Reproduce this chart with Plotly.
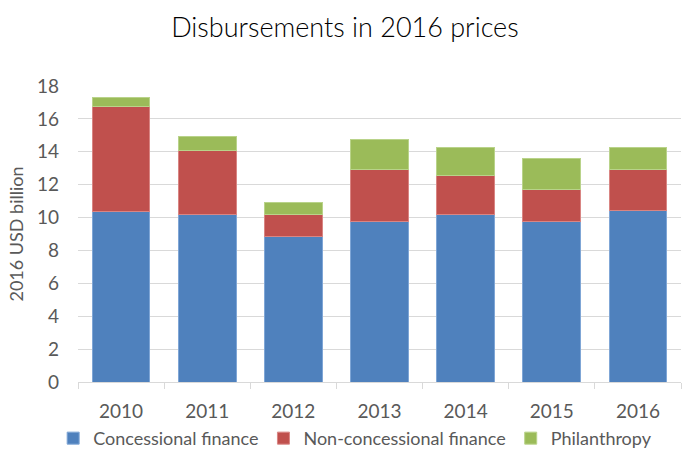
import plotly.graph_objects as go

# Data (2016 USD billion)
years = ["2010", "2011", "2012", "2013", "2014", "2015", "2016"]
concessional = [10.35, 10.17, 8.83, 9.78, 10.17, 9.78, 10.45]
non_concessional = [6.39, 3.91, 1.34, 3.17, 2.37, 1.91, 2.50]
philanthropy = [0.57, 0.86, 0.75, 1.78, 1.73, 1.91, 1.32]

FONT = "Lato, Calibri, sans-serif"
TEXT_GREY = "#595959"

fig = go.Figure()

# Stacked bars, bottom to top
fig.add_trace(go.Bar(
    x=years, y=concessional, name="Concessional finance",
    marker=dict(color="#4F81BD", line=dict(color="#7FA6D6", width=1)),
))
fig.add_trace(go.Bar(
    x=years, y=non_concessional, name="Non-concessional finance",
    marker=dict(color="#C0504D", line=dict(color="#D98583", width=1)),
))
fig.add_trace(go.Bar(
    x=years, y=philanthropy, name="Philanthropy",
    marker=dict(color="#9BBB59", line=dict(color="#B9D38A", width=1)),
))

fig.update_layout(
    barmode="stack",
    bargap=0.33,
    width=683,
    height=452,
    margin=dict(l=78, r=2, t=86, b=70),
    paper_bgcolor="white",
    plot_bgcolor="white",
    font=dict(family=FONT, size=18, color=TEXT_GREY),
    title=dict(
        text="Disbursements in 2016 prices",
        x=0.505, xanchor="center",
        y=0.938, yanchor="middle",
        font=dict(family=FONT, size=27, color="#000000", weight=300),
    ),
    legend=dict(
        orientation="h",
        xref="container", yref="container",
        x=0.52, xanchor="center",
        y=0.03, yanchor="middle",
        font=dict(family=FONT, size=18, color=TEXT_GREY),
        itemwidth=30,
        traceorder="normal",
    ),
    xaxis=dict(
        automargin=False,
        showgrid=False,
        showline=True,
        linecolor="#D9D9D9",
        linewidth=1,
        ticks="outside",
        ticklen=6,
        tickcolor="#D9D9D9",
        tickson="boundaries",
        ticklabelstandoff=12,
        tickfont=dict(family=FONT, size=19, color=TEXT_GREY),
    ),
    yaxis=dict(
        automargin=False,
        range=[0, 18],
        dtick=2,
        showgrid=True,
        gridcolor="#D9D9D9",
        gridwidth=1,
        zeroline=False,
        showline=False,
        ticks="",
        ticklabelstandoff=18,
        tickfont=dict(family=FONT, size=19, color=TEXT_GREY),
        title=dict(text="2016 USD billion", standoff=8,
                   font=dict(family=FONT, size=18, color=TEXT_GREY)),
    ),
)

# Drop the default page margin so the figure sits at the window corner
fig.write_html(
    "out.html",
    config={"displayModeBar": False},
    post_script="document.body.style.margin = '0';",
)
